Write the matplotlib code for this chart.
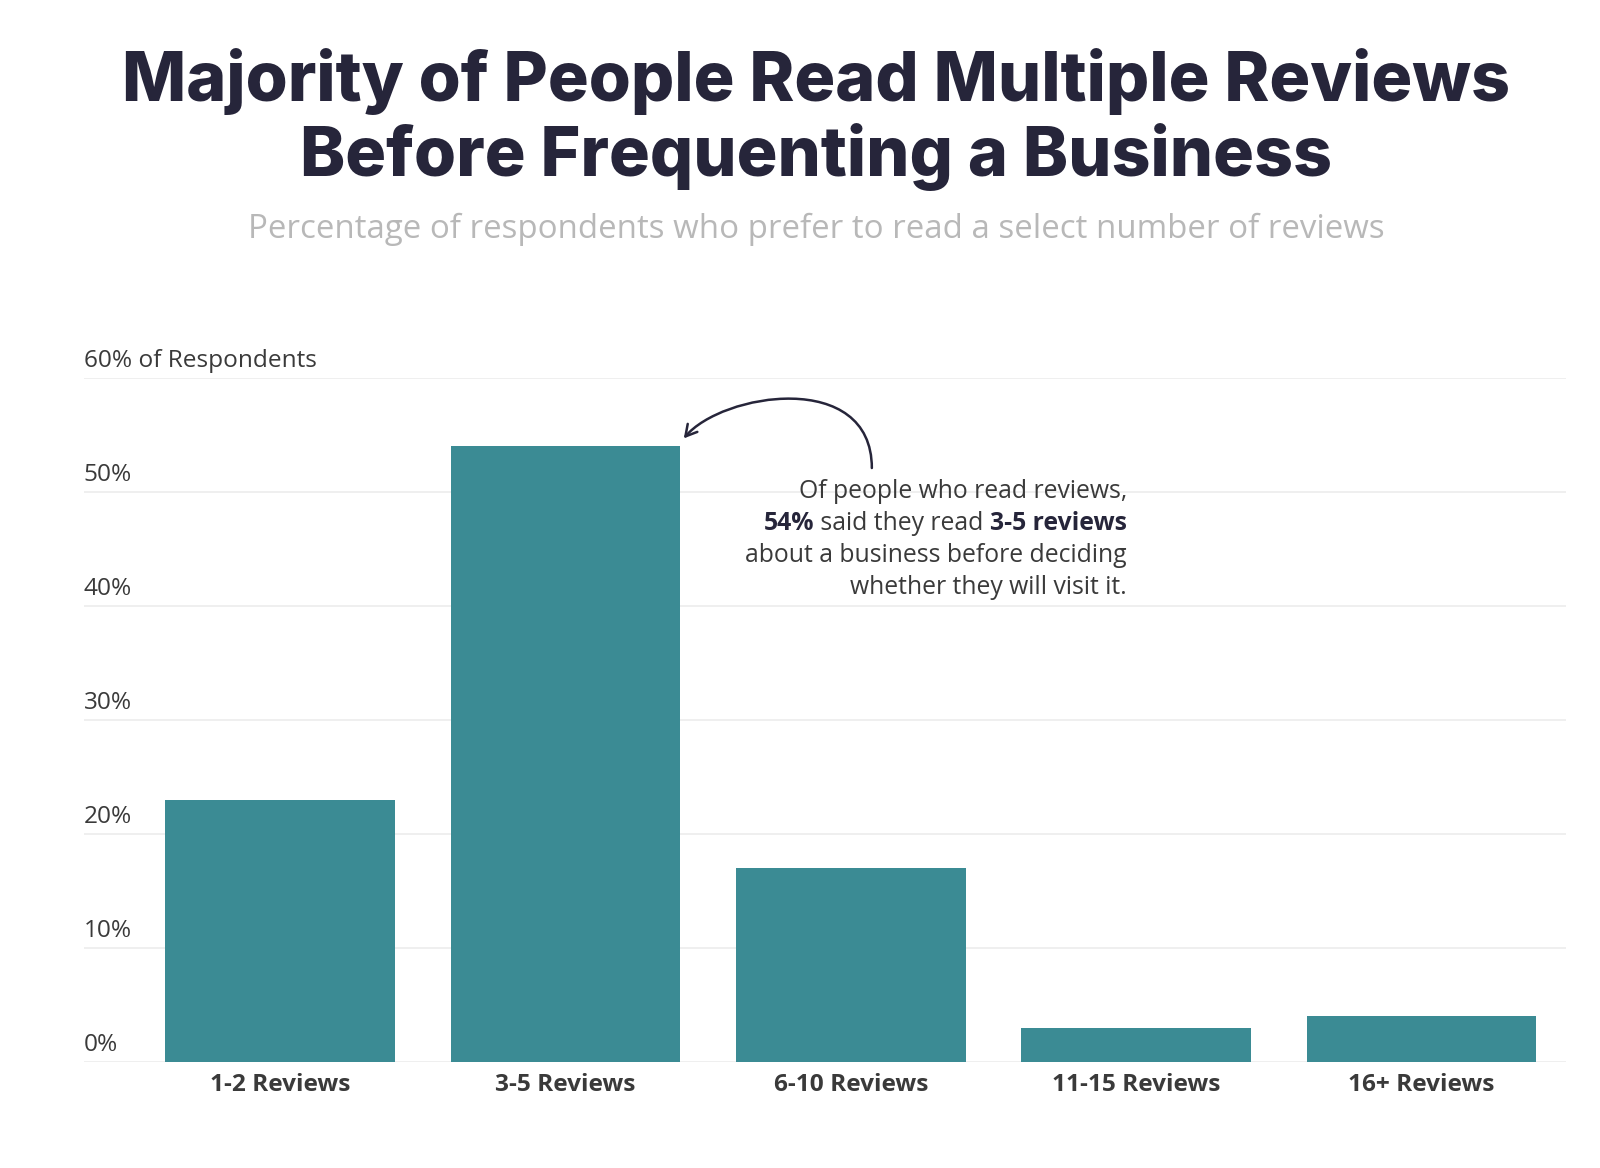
import matplotlib
matplotlib.use("Agg")
import matplotlib.pyplot as plt
from matplotlib.patches import FancyArrowPatch
from matplotlib.path import Path
from matplotlib.transforms import ScaledTranslation, blended_transform_factory

# data
categories = ["1-2 Reviews", "3-5 Reviews", "6-10 Reviews", "11-15 Reviews", "16+ Reviews"]
values = [23, 54, 17, 3, 4]
y_ticks = [0, 10, 20, 30, 40, 50, 60]
y_tick_labels = ["0%", "10%", "20%", "30%", "40%", "50%", "60% of Respondents"]

title_lines = ["Majority of People Read Multiple Reviews", "Before Frequenting a Business"]
subtitle = "Percentage of respondents who prefer to read a select number of reviews"

BAR = "#3b8b94"
DARK = "#26253a"
TEXT = "#3a3a3a"
GRID = "#ececec"

plt.rcParams["font.family"] = ["Open Sans", "DejaVu Sans"]

fig = plt.figure(figsize=(16, 11.68), dpi=100)
ax = fig.add_axes([0.0523, 0.0908, 0.9267, 0.5856])

x = list(range(len(categories)))
ax.bar(x, values, width=0.805, color=BAR, zorder=2)

ax.set_xlim(-0.688, 4.508)
ax.set_ylim(0, 60)
for s in ax.spines.values():
    s.set_visible(False)
ax.set_yticks([])
for v in y_ticks:
    ax.axhline(v, color=GRID, lw=1.2, zorder=1)

# y labels sit on top of the gridlines
trans = blended_transform_factory(ax.transAxes, ax.transData)
for v, lab in zip(y_ticks, y_tick_labels):
    ax.annotate(lab, xy=(0, v), xycoords=trans, xytext=(0, 12), textcoords="offset points",
                ha="left", va="center", fontsize=17.6, color=TEXT)

ax.set_xticks(x)
ax.set_xticklabels(categories, fontsize=17.6, fontweight="bold", color=TEXT)
ax.tick_params(axis="x", length=0, pad=8)

# titles (the reference block sits a little right of centre)
fig.text(0.51, 0.9300, title_lines[0], ha="center", va="center", fontsize=49,
         fontweight="heavy", color=DARK, family=["Inter", "DejaVu Sans"])
fig.text(0.51, 0.8655, title_lines[1], ha="center", va="center", fontsize=49,
         fontweight="heavy", color=DARK, family=["Inter", "DejaVu Sans"])
fig.text(0.51, 0.804, subtitle, ha="center", va="center", fontsize=23.8, color="#b8b8b8")

# annotation, right aligned
ax_right = 2.968
fs = 17.8
ax.text(ax_right, 50.0, "Of people who read reviews,", ha="right", va="center", fontsize=fs, color=TEXT)
ax.text(ax_right, 44.4, "about a business before deciding", ha="right", va="center", fontsize=fs, color=TEXT)
ax.text(ax_right, 41.6, "whether they will visit it.", ha="right", va="center", fontsize=fs, color=TEXT)

renderer = fig.canvas.get_renderer()
pieces = [("3-5 reviews", "bold", DARK), (" said they read ", "normal", TEXT), ("54%", "bold", DARK)]
shift = 0.0
for txt, w, c in pieces:
    t = ax.text(ax_right, 47.2, txt, ha="right", va="center", fontsize=fs, fontweight=w, color=c,
                transform=ax.transData + ScaledTranslation(-shift / fig.dpi, 0, fig.dpi_scale_trans))
    shift += t.get_window_extent(renderer).width

# curved pointer from the note up and over to the top of the 3-5 bar
arc = Path([(2.074, 52.1), (2.074, 60.8), (1.548, 58.7), (1.415, 54.7)],
           [Path.MOVETO, Path.CURVE4, Path.CURVE4, Path.CURVE4])
ax.add_patch(FancyArrowPatch(path=arc, arrowstyle="->,head_length=0.8,head_width=0.45",
                             mutation_scale=10, color=DARK, lw=1.8, clip_on=False, zorder=3))

fig.savefig("out.png", dpi=100, facecolor="white")
